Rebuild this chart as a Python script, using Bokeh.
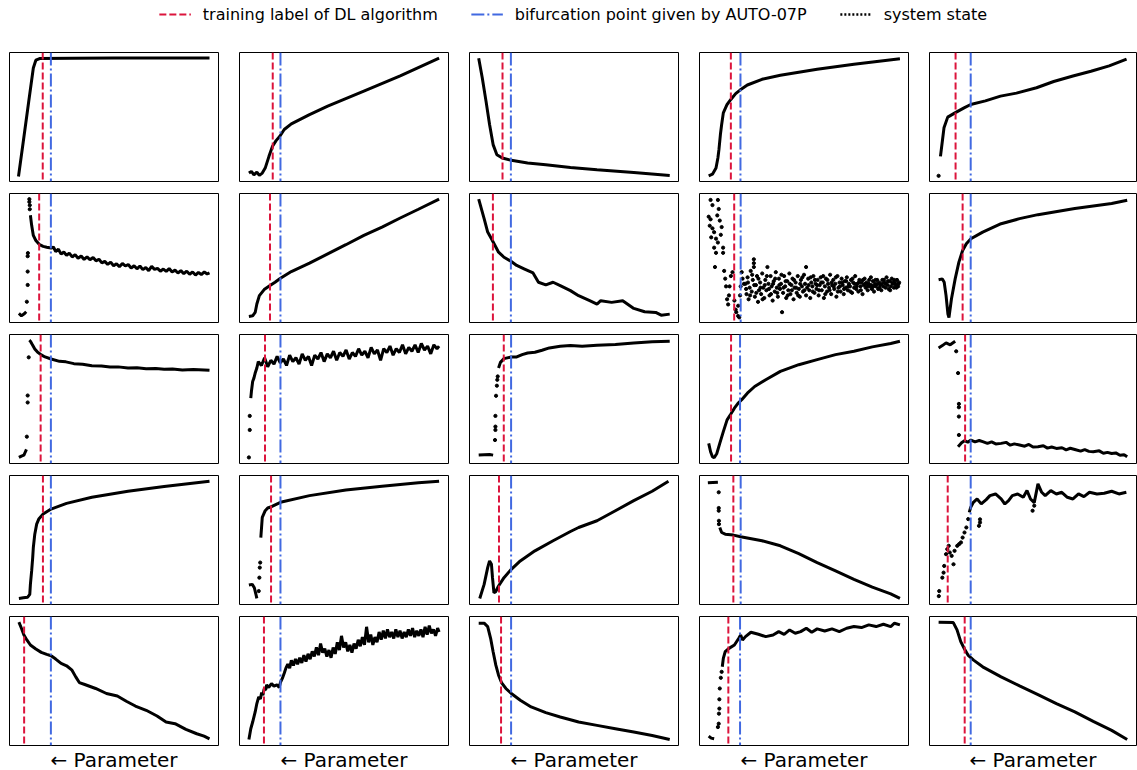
from bokeh.plotting import figure
from bokeh.models import Range1d, Span, Legend, LegendItem, Title
from bokeh.layouts import column, row
from bokeh.embed import file_html
from bokeh.resources import INLINE

nan = float("nan")

# position of the vertical markers (percent of the parameter axis), panels in reading order
train_x = [15.9, 15.9, 15.8, 15.0, 12.6,
           14.2, 14.6, 11.2, 16.6, 16.0,
           14.9, 12.2, 16.4, 15.1, 17.2,
           16.0, 15.1, 14.1, 16.2, 8.8,
           7.0, 11.7, 15.1, 13.8, 17.0]
bif_x = [19.8, 19.6, 19.8, 19.6, 19.9,
         19.8, 19.6, 19.8, 19.7, 19.9,
         19.8, 19.6, 19.9, 19.4, 19.9,
         19.8, 19.6, 19.9, 19.7, 19.9,
         19.8, 19.6, 19.9, 19.4, 19.9]

# system state, continuous traces (x = parameter %, y = state % of range); nan breaks a trace
s01 = [(4.3, 3.9), (6.6, 31), (9.2, 62), (11.4, 88), (12.6, 94), (14.4, 95.3), (30, 95.6), (50, 95.7), (70, 95.8), (95.7, 95.8)]
s02 = [(4.5, 6.5), (5.7, 7.8), (6.9, 5.2), (8.3, 7.3), (9.5, 4.7), (10.9, 6.5), (12.3, 10.4), (14.1, 19.5), (15.8, 27.3),
       (17.5, 31.7), (19.3, 35.1), (21.4, 40.3), (24.8, 44.7), (33.5, 51.9), (42.2, 58.4), (59.5, 70.1), (76.9, 81.8), (95.5, 95.6)]
s03 = [(4.4, 95.6), (6.1, 80.5), (7.9, 62.3), (9.6, 44.2), (11.3, 28.6), (13.1, 20.8), (15.7, 18.2), (20.0, 16.4),
       (27.8, 14.3), (36.5, 13.0), (48.3, 10.9), (61.0, 9.1), (78.6, 7.0), (95.8, 4.7)]
s04 = [(4.4, 4.4), (6.2, 5.7), (7.9, 10.4), (8.8, 18.2), (9.3, 24.7), (10.0, 36.4), (10.6, 44.2), (11.4, 53.2), (13.2, 59.7),
       (15.0, 63.6), (17.3, 68.1), (19.4, 70.9), (22.9, 74.8), (29.9, 79.2), (38.7, 82.3), (56.3, 87.0), (73.9, 90.9), (95.9, 95.1)]
s05 = [(5.3, 19.5), (6.2, 31.2), (7.0, 41.6), (8.8, 49.9), (12.3, 53.2), (16.7, 57.1), (19.9, 59.7), (27, 62.5), (34.3, 66.2),
       (42, 68.5), (51.7, 72.7), (60, 77.5), (69.3, 81.8), (78, 85.5), (86.8, 89.6), (95.2, 94.8)]
s06 = [(4.5, 7.0), (5.7, 5.2), (6.9, 6.5), (8.0, 8.3), (nan, nan),
       (10.0, 83.1), (10.6, 75.3), (11.4, 67.5), (12.6, 63.6), (14.4, 60.3), (16.1, 59.0), (17.8, 58.4), (19.9, 57.7),
       (21.0, 58.5), (22.1, 55.0), (23.4, 56.8), (24.7, 53.0), (26.0, 54.6), (27.3, 52.0), (28.6, 53.8), (30.0, 50.8),
       (31.4, 52.6), (32.8, 49.8), (34.3, 51.6), (35.7, 48.9), (37.1, 50.9), (38.5, 48.6), (40.0, 50.4), (41.4, 47.8),
       (42.8, 49.0), (44.2, 46.2), (45.6, 47.4), (47.0, 45.0), (48.4, 46.8), (49.8, 44.0), (51.2, 45.6), (52.6, 43.2),
       (54.0, 45.8), (55.4, 43.8), (56.8, 44.9), (58.2, 42.2), (59.6, 44.0), (61.0, 41.6), (62.4, 43.8), (63.8, 41.0),
       (65.2, 42.6), (66.6, 40.2), (68.0, 43.5), (69.4, 41.2), (70.8, 42.0), (72.2, 39.8), (73.6, 41.4), (75.0, 39.6),
       (76.4, 41.8), (77.8, 39.2), (79.2, 40.6), (80.6, 38.4), (82.0, 40.2), (83.4, 37.8), (84.8, 39.8), (86.2, 37.4),
       (87.6, 39.2), (89.0, 36.8), (90.4, 38.8), (91.8, 37.2), (93.2, 39.2), (94.6, 37.6), (95.7, 38.4)]
s07 = [(4.5, 4.7), (6.3, 5.2), (7.5, 7.8), (8.3, 14.3), (9.5, 20.8), (11.8, 25.5), (14.6, 28.6), (17.0, 31.2), (19.6, 34.3),
       (24.8, 39.5), (33.5, 46.0), (42.2, 53.2), (50.9, 60.3), (59.5, 67.5), (68.2, 74.0), (76.9, 81.0), (85.6, 87.8), (95.5, 95.6)]
s08 = [(4.4, 95.6), (7.0, 80.5), (8.7, 70.1), (10.5, 64.9), (12.2, 59.7), (13.9, 54.5), (16.5, 50.6), (20.0, 47.3),
       (22.6, 44.2), (26.1, 41.6), (30.4, 38.4), (33.0, 31.2), (36.5, 29.1), (40.0, 31.2), (43.4, 28.6), (48.3, 24.7),
       (52.2, 20.8), (57.5, 16.9), (61.0, 14.3), (62.8, 16.9), (68.0, 15.6), (73.3, 16.9), (78.6, 10.9), (83.8, 8.3),
       (89.1, 7.8), (91.7, 5.7), (95.8, 6.5)]
s09 = []
s10 = [(4.4, 33.2), (6.2, 33.8), (7.1, 31.2), (8.0, 20.8), (8.9, 6.5), (9.4, 3.9), (10.6, 18.2), (12.4, 33.8), (14.2, 46.8),
       (16.0, 55.8), (17.8, 61.0), (20.0, 64.9), (25.7, 70.1), (34.6, 76.6), (43.5, 80.5), (52.4, 83.6), (70.2, 88.3),
       (88.0, 92.2), (95.5, 94.8)]
s11 = [(4.5, 4.7), (5.7, 5.7), (6.9, 6.5), (7.6, 9.1), (8.1, 10.9), (nan, nan),
       (9.5, 95.6), (10.0, 94.8), (10.9, 92.2), (12.1, 88.8), (13.5, 86.2), (15.2, 84.2), (17.0, 82.6), (19.9, 81.0),
       (23.9, 79.2), (27, 78.8), (30.8, 77.4), (35, 77.0), (39.4, 75.8), (44, 75.6), (48.1, 74.8), (52, 74.9), (56.7, 74.0),
       (61, 74.2), (65.4, 73.5), (70, 73.6), (74.0, 73.0), (78, 73.2), (82.7, 72.5), (88, 72.8), (95.7, 72.2)]
s12 = [(5.4, 50.6), (5.7, 55.8), (6.3, 63.6), (6.9, 66.2), (7.5, 70.1), (8.3, 74.0),
       (9, 79), (10.5, 76), (12, 82), (13.5, 75), (15, 80), (16.5, 77), (18, 83), (19.5, 78), (21, 81), (22.5, 76),
       (24, 84), (25.5, 79), (27, 82), (28.5, 77), (30, 85), (31.5, 80), (33, 83), (34.5, 76), (36, 84), (37.5, 81),
       (39, 86), (40.5, 79), (42, 85), (43.5, 82), (45, 87), (46.5, 80), (48, 86), (49.5, 83), (51, 88), (52.5, 81),
       (54, 86), (55.5, 83), (57, 89), (58.5, 84), (60, 87), (61.5, 82), (63, 90), (64.5, 85), (66, 88), (67.5, 80),
       (69, 89), (70.5, 86), (72, 91), (73.5, 84), (75, 89), (76.5, 86), (78, 92), (79.5, 85), (81, 90), (82.5, 87),
       (84, 92), (85.5, 86), (87, 93), (88.5, 88), (90, 91), (91.5, 85), (93, 92), (94.5, 89), (95.5, 91)]
s13 = [(4.4, 6.5), (9.6, 7.0), (11.3, 6.5), (nan, nan),
       (13.9, 74.0), (14.8, 78.4), (16.5, 81.3), (20.0, 82.6), (22.6, 82.6), (25.2, 84.4), (27.8, 85.7), (31.3, 86.2),
       (34.7, 87.8), (38.2, 89.6), (43.4, 90.9), (48.3, 91.4), (53.9, 90.9), (61.0, 91.7), (69.8, 92.2), (78.6, 93.5),
       (87.4, 94.3), (95.8, 94.8)]
s14 = [(4.4, 15.6), (5.3, 9.1), (6.2, 5.2), (7.0, 4.4), (8.3, 7.8), (9.7, 15.6), (11.4, 24.7), (13.2, 33.8), (15.0, 38.4),
       (16.7, 42.9), (18.5, 46.8), (20.2, 49.4), (22.9, 54.5), (26.4, 59.7), (31.7, 64.9), (38.7, 71.4), (47.5, 76.6),
       (56.3, 80.5), (65.1, 84.4), (73.9, 87.0), (82.7, 90.4), (91.5, 93.0), (95.9, 94.8)]
s15 = [(4.4, 89.6), (6.2, 91.4), (8.0, 93.5), (10.0, 92.0), (12.4, 94.8), (nan, nan),
       (13.8, 13.0), (15.5, 16.1), (16.9, 17.7), (18.5, 16.5), (20.0, 18.2), (22, 16.8), (24, 17.8), (25.7, 16.9),
       (28, 15.6), (30, 16.8), (32, 15.2), (34.6, 15.6), (37, 16.4), (39, 14.2), (41, 15.2), (43.5, 14.3), (46, 13.4),
       (48, 14.8), (50, 12.8), (52.4, 13.0), (55, 13.8), (57, 11.9), (59, 12.8), (61.3, 11.7), (64, 12.2), (66, 10.6),
       (68, 11.8), (70.2, 10.9), (73, 9.6), (75, 10.8), (77, 9.4), (79.1, 9.1), (82, 9.8), (84, 7.9), (86, 8.6),
       (88.0, 7.8), (90, 8.2), (92, 6.4), (94, 6.8), (95.5, 5.2)]
s16 = [(4.5, 4.7), (6.6, 5.2), (8.7, 5.7), (9.7, 7.8), (10.0, 15.6), (10.6, 26.0), (11.1, 36.4), (11.4, 44.2), (12.1, 54.5),
       (13.0, 62.3), (14.0, 66.2), (16.1, 70.1), (19.9, 74.0), (27.3, 78.4), (39.4, 83.1), (56.7, 87.8), (74.0, 91.4), (95.7, 95.6)]
s17 = [(4.5, 15.1), (6.1, 15.6), (7.1, 13.0), (7.8, 8.3), (8.3, 4.7), (nan, nan),
       (10.2, 51.9), (10.9, 67.5), (12.3, 72.7), (13.5, 74.8), (15.3, 75.8), (19.6, 79.2), (33.5, 84.4), (50.9, 88.8),
       (68.2, 91.7), (85.6, 94.3), (95.5, 95.6)]
s18 = [(4.9, 4.7), (7.0, 15.6), (8.7, 28.6), (9.6, 33.8), (10.5, 31.2), (11.0, 20.8), (11.7, 9.1), (12.5, 9.9), (13.9, 14.3),
       (16.5, 20.8), (20.0, 27.3), (24.3, 33.8), (31.3, 41.6), (40.0, 49.4), (48.3, 56.6), (52.2, 59.7), (61.0, 64.9),
       (69.8, 72.7), (78.6, 80.5), (87.4, 87.8), (95.2, 95.6)]
s19 = [(4.0, 94.3), (8.8, 94.8), (nan, nan),
       (9.7, 59.7), (10.6, 55.8), (12.3, 54.5), (16.2, 53.8), (19.7, 52.5), (29.9, 49.4), (38.7, 45.5), (47.5, 39.5),
       (56.3, 32.5), (65.1, 26.0), (73.9, 19.5), (82.7, 13.5), (91.5, 8.3), (95.9, 4.7)]
s20 = [(19.2, 71.4), (19.9, 75.3), (21.2, 79.2), (23.0, 81.8), (25.0, 78), (27.4, 81.3), (29.2, 84.4), (31.9, 85.7),
       (34.6, 81.8), (36.4, 77.9), (38.2, 80.5), (40.0, 84.4), (42.6, 85.7), (45.3, 83.1), (47.1, 88.3), (48.8, 81.8),
       (50.6, 79), (52.4, 93.5), (54.2, 87.0), (55.9, 84.4), (58.6, 88.3), (61.3, 85.7), (63.9, 87.0), (66.6, 83.1),
       (69.3, 81.8), (72.0, 85.7), (74.6, 83.6), (77.3, 87.0), (80.9, 85.7), (84.4, 86.2), (88.0, 87.8), (91.5, 85.7), (95.1, 87.0)]
s21 = [(4.5, 95.6), (5.7, 90.9), (6.9, 85.7), (8.3, 81.8), (10.0, 77.9), (12.6, 74.8), (15.2, 72.2), (17.8, 70.6),
       (19.9, 69.6), (22.1, 67.0), (24.7, 63.6), (27.3, 61.8), (29.9, 58.4), (31.7, 53.2), (33.4, 48.8), (36.0, 47.3),
       (41.2, 44.2), (46.4, 40.3), (51.6, 38.4), (55.9, 34.3), (60.2, 30.6), (65.4, 27.3), (70.6, 22.9), (74.9, 18.2),
       (79.2, 16.9), (84.4, 12.5), (89.6, 9.1), (93.1, 7.3), (95.7, 5.2)]
s22 = [(4.5, 4.7), (5.4, 13.0), (6.3, 18.2), (7.5, 26.0), (8.3, 32.5), (9.2, 37.7), (10.0, 36), (10.6, 41), (11.2, 39),
       (11.8, 44), (12.5, 43), (13.0, 47), (14, 45), (15.3, 48), (16.5, 46), (17.9, 47), (19, 45), (19.6, 49), (20.5, 52),
       (21.4, 56), (22.2, 60), (23.1, 63), (24.0, 60),
       (24.8, 66), (25.8, 62), (26.8, 67), (27.8, 63), (28.8, 68), (29.8, 64), (30.8, 70), (31.8, 65), (32.8, 71),
       (33.8, 67), (34.8, 73), (35.8, 69), (36.8, 76), (37.8, 70), (38.8, 79), (39.8, 72), (40.8, 75), (41.8, 69),
       (42.8, 74), (43.8, 68), (44.8, 76), (45.8, 71), (46.8, 80), (47.8, 74), (48.8, 85), (49.8, 76), (50.8, 80),
       (51.8, 73), (52.8, 78), (53.8, 72), (54.8, 79), (55.8, 75), (56.8, 82), (57.8, 77), (58.8, 84), (59.8, 78),
       (60.8, 92), (61.8, 80), (62.8, 86), (63.8, 78), (64.8, 84), (65.8, 80), (66.8, 88), (67.8, 82), (68.8, 89),
       (69.8, 83), (70.8, 90), (71.8, 84), (72.8, 88), (73.8, 83), (74.8, 90), (75.8, 84), (76.8, 89), (77.8, 83),
       (78.8, 88), (79.8, 84), (80.8, 90), (81.8, 85), (82.8, 91), (83.8, 84), (84.8, 89), (85.8, 85), (86.8, 90),
       (87.8, 84), (88.8, 92), (89.8, 86), (90.8, 93), (91.8, 87), (92.8, 90), (93.8, 85), (94.8, 91), (95.5, 88)]
s23 = [(4.4, 94.8), (7.0, 94.8), (8.7, 92.2), (10.1, 83.1), (11.3, 72.7), (12.6, 62.3), (13.9, 54.5), (15.3, 48.8),
       (17.4, 44.2), (20.0, 40.3), (24.3, 35.1), (29.5, 29.9), (36.5, 25.5), (43.4, 22.1), (48.3, 20.0), (52.2, 18.2),
       (61.0, 15.6), (69.8, 13.0), (78.6, 10.4), (87.4, 7.8), (95.8, 4.7)]
s24 = [(4.4, 7.3), (5.6, 5.7), (7.0, 5.2), (nan, nan),
       (10.9, 61.0), (11.4, 67.5), (12.3, 72.7), (14.1, 75.3), (16.7, 77.9), (18.8, 83.1), (19.7, 85.7), (20.6, 81.8),
       (22.0, 84.4), (24.6, 87.8), (28.2, 86.2), (31.7, 84.4), (35.2, 85.7), (37.9, 88.3), (40.5, 86.2), (43.1, 89.6),
       (45.8, 87.0), (48.4, 88.3), (51.1, 90.9), (53.7, 87.8), (56.3, 90.4), (59.9, 88.8), (63.4, 90.4), (66.9, 88.3),
       (70.4, 90.9), (73.9, 92.2), (77.5, 91.4), (81.0, 93.5), (84.5, 92.2), (88.0, 94.0), (91.5, 92.2), (93.3, 94.8), (95.9, 93.5)]
s25 = [(4.4, 95.6), (11.5, 95.3), (13.3, 89.6), (15.1, 80.5), (16.9, 74.8), (18.6, 70.1), (21.3, 66.2), (25.7, 61.0),
       (34.6, 53.2), (43.5, 46.2), (52.4, 39.5), (61.3, 32.5), (70.2, 26.0), (79.1, 18.7), (88.0, 11.7), (95.5, 4.7)]

# system state, isolated points
d05 = [(4.4, 4.4)]
d06 = [(8.3, 16.1), (8.7, 29.1), (8.7, 39.5), (8.7, 51.4), (8.8, 53.8), (9.5, 95.6), (9.5, 93.5), (9.7, 90.9), (9.7, 87.8)]
d09 = [(5.3, 95), (6.2, 91), (4.4, 82), (5.3, 80), (4.9, 75), (6.2, 73), (7.0, 70), (5.6, 66), (8.8, 95), (9.2, 88),
       (8.5, 83), (9.7, 79), (10.6, 74), (10.2, 68), (7.9, 65), (8.8, 62), (11.3, 58), (7.0, 58), (11.3, 54), (7.9, 54),
       (7.4, 43), (11.8, 40), (12.3, 34), (12.7, 28), (13.2, 18), (13.7, 14), (14.1, 21), (14.4, 28), (15.0, 36),
       (15.8, 39), (16.7, 17), (17.3, 10), (17.6, 8), (18.5, 5), (19.0, 4), (18.5, 13), (19.4, 21), (19.7, 28),
       (20.2, 39), (20.6, 34), (21.3, 30),
       (22, 30), (22.5, 22), (23, 35), (23.5, 18), (24, 27), (24.5, 40), (25, 24), (25.5, 33), (26, 46), (26, 43),
       (26, 49), (26.5, 20), (27, 29), (27.5, 36), (28, 16), (28.5, 25), (29, 31), (29.5, 22), (30, 38), (30.5, 27),
       (31, 19), (31.5, 33), (32, 25), (32.5, 43), (33, 30), (33.5, 21), (34, 36), (34.5, 28), (35, 17), (35.5, 32),
       (36, 24), (36.5, 39), (37, 27), (37.5, 20), (38, 34), (38.5, 26), (39, 30), (39.5, 8), (40, 23), (40.5, 36),
       (41, 28), (41.5, 19), (42, 32), (42.5, 25), (43, 38), (43.5, 22), (44, 29), (44.5, 34), (45, 18), (45.5, 27),
       (46, 31), (46.5, 23), (47, 36), (47.5, 26), (48, 20), (48.5, 33), (49, 28), (49.5, 24), (50, 37), (50.5, 30),
       (51, 43), (51, 21), (51.5, 27), (52, 34), (52.5, 25), (53, 19), (53.5, 31), (54, 28), (54.5, 36), (55, 23),
       (55.5, 30), (56, 26), (56.5, 33), (57, 21), (57.5, 29), (58, 35), (58.5, 25), (59, 31), (59.5, 19), (60, 28),
       (60.5, 34), (61, 24), (61.5, 30), (62, 27), (62.5, 37), (63, 22), (63.5, 29), (64, 33), (64.5, 26), (65, 30),
       (65.5, 20), (66, 36), (66.5, 27), (67, 31), (67.5, 24), (68, 34), (68.5, 29), (69, 22), (69.5, 32), (70, 27),
       (70.5, 35), (71, 25), (71.5, 30), (72, 28), (72.5, 33), (73, 23), (73.5, 31), (74, 27), (74.5, 36), (75, 26),
       (75.5, 30), (76, 24), (76.5, 33), (77, 28), (77.5, 31), (78, 22), (78.5, 29), (79, 34), (79.5, 27), (80, 31),
       (80.5, 25), (81, 30), (81.5, 28), (82, 35), (82.5, 26), (83, 32), (83.5, 24), (84, 30), (84.5, 28), (85, 33),
       (85.5, 26), (86, 31), (86.5, 29), (87, 25), (87.5, 33), (88, 28), (88.5, 31), (89, 27), (89.5, 35), (90, 29),
       (90.5, 26), (91, 32), (91.5, 28), (92, 34), (92.5, 30), (93, 27), (93.5, 31), (94, 29), (94.5, 33), (95, 28), (95.5, 31),
       (22.3, 26), (23.2, 31), (24.2, 21), (25.2, 37), (26.2, 29), (27.2, 23), (28.2, 34), (29.2, 27), (30.2, 18),
       (31.2, 29), (32.2, 36), (33.2, 26), (34.2, 22), (35.2, 30), (36.2, 34), (37.2, 23), (38.2, 29), (39.2, 37),
       (40.2, 27), (41.2, 32), (42.2, 21), (43.2, 30), (44.2, 25), (45.2, 33), (46.2, 27), (47.2, 21), (48.2, 30),
       (49.2, 35), (50.2, 25), (52.2, 29), (53.2, 35), (54.2, 24), (55.2, 33), (56.2, 29), (57.2, 25), (58.2, 31),
       (59.2, 36), (60.2, 22), (61.2, 33), (62.2, 25), (63.2, 31), (64.2, 28), (65.2, 35), (66.2, 24), (67.2, 28),
       (68.2, 31), (69.2, 26), (70.2, 32), (71.2, 28), (72.2, 24), (73.2, 34), (74.2, 30), (75.2, 28), (76.2, 31),
       (77.2, 25), (78.2, 33), (79.2, 30), (80.2, 28), (81.2, 33), (82.2, 29), (83.2, 28), (84.2, 33), (85.2, 30),
       (86.2, 27), (87.2, 30), (88.2, 33), (89.2, 30), (90.2, 32), (91.2, 25), (92.2, 31), (93.2, 33), (94.2, 27), (95.2, 30)]
d11 = [(8.3, 20.8), (8.7, 47.3), (8.7, 52.7), (9.2, 82.3)]
d12 = [(4.5, 4.7), (4.9, 26.0), (4.9, 36.9)]
d13 = [(12.2, 18.2), (12.4, 26.0), (12.4, 28.6), (12.4, 36.9), (12.7, 52.5), (13.1, 60.3), (13.3, 64.9), (13.5, 67.5)]
d15 = [(12.9, 87.0), (13.8, 70.1), (14.2, 46.2), (14.2, 43.6), (14.2, 36.4), (14.2, 22.1)]
d17 = [(9.2, 10.4), (9.5, 20.8), (9.7, 28.6), (9.9, 32.5)]
d19 = [(9.2, 87.0), (9.2, 74.8), (9.2, 72.7), (9.3, 64.9), (9.3, 62.3)]
d20 = [(4.5, 6.5), (4.7, 10.4), (6.2, 20.8), (6.8, 24.7), (7.1, 29.9), (8.0, 39.0), (8.6, 42.9), (9.3, 45.5), (9.8, 40.3),
       (10.7, 37.7), (11.6, 31.2), (12.1, 41.6), (13.4, 45.5), (14.3, 46.8), (15.2, 48.1), (16.0, 51.9), (16.9, 55.8),
       (17.8, 59.7), (18.7, 66.2), (23.9, 61.0), (24.4, 63.6), (24.4, 66), (49.8, 72.7), (50.6, 76.6)]
d24 = [(8.8, 14.3), (9.2, 16.9), (9.3, 24.7), (9.5, 28.6), (9.5, 35.8), (9.7, 44.2), (10.2, 52.5), (10.6, 57.1)]

traces = [s01, s02, s03, s04, s05, s06, s07, s08, s09, s10, s11, s12, s13, s14, s15,
          s16, s17, s18, s19, s20, s21, s22, s23, s24, s25]
dots = {4: d05, 5: d06, 8: d09, 10: d11, 11: d12, 12: d13, 14: d15, 16: d17, 18: d19, 19: d20, 23: d24}

legend_labels = ["training label of DL algorithm", "bifurcation point given by AUTO-07P", "system state"]

RED = "#DC143C"
BLUE = "#4169E1"
FONT = "DejaVu Sans"


def make_panel(i):
    r, c = divmod(i, 5)
    last_col = c == 4
    p = figure(frame_width=207 if last_col else 209, frame_height=129,
               x_range=Range1d(0, 100), y_range=Range1d(0, 100),
               x_axis_location=None, y_axis_location=None,
               toolbar_location=None, output_backend="svg",
               min_border_left=9, min_border_right=1 if last_col else 12,
               min_border_top=7, min_border_bottom=0 if r == 4 else 5)
    p.grid.visible = False
    p.outline_line_color = "black"
    p.outline_line_alpha = 1.0
    p.outline_line_width = 1
    tr = traces[i]
    if tr:
        p.line([a for a, b in tr], [b for a, b in tr], line_color="black", line_width=3)
    if i in dots:
        d = dots[i]
        p.scatter([a for a, b in d], [b for a, b in d], size=3.2, color="black")
    p.add_layout(Span(location=train_x[i], dimension="height", line_color=RED,
                      line_dash="7 3", line_width=2))
    p.add_layout(Span(location=bif_x[i], dimension="height", line_color=BLUE,
                      line_dash="13 3 2 3", line_width=2))
    if r == 4:
        p.add_layout(Title(text="← Parameter", align="center", text_font=FONT,
                           text_font_size="20px", text_font_style="normal",
                           text_color="black", standoff=0, offset=0), "below")
    return p


# legend strip on top (sample glyphs placed outside the visible range)
leg = figure(width=1137, height=45, x_range=Range1d(0, 1), y_range=Range1d(0, 1),
             x_axis_location=None, y_axis_location=None, toolbar_location=None,
             output_backend="svg", min_border=0, min_border_left=9, outline_line_color=None)
leg.grid.visible = False
r1 = leg.line([-5, -4], [-5, -4], line_color=RED, line_dash="7 3", line_width=2)
r2 = leg.line([-5, -4], [-5, -4], line_color=BLUE, line_dash="13 3 2 3", line_width=2)
r3 = leg.line([-5, -4], [-5, -4], line_color="black", line_dash="2 2", line_width=2.5)
legend = Legend(items=[LegendItem(label=legend_labels[0], renderers=[r1]),
                       LegendItem(label=legend_labels[1], renderers=[r2]),
                       LegendItem(label=legend_labels[2], renderers=[r3])],
                orientation="horizontal", location="top_center",
                border_line_alpha=0, background_fill_alpha=0,
                label_text_font=FONT, label_text_font_size="16px", label_text_color="black",
                glyph_width=32, glyph_height=20, label_standoff=12, spacing=33,
                padding=4, margin=0)
leg.add_layout(legend, "center")

rows = [row(*[make_panel(r * 5 + c) for c in range(5)]) for r in range(5)]
layout = column(leg, *rows)

open("out.html", "w").write(file_html(layout, INLINE))
